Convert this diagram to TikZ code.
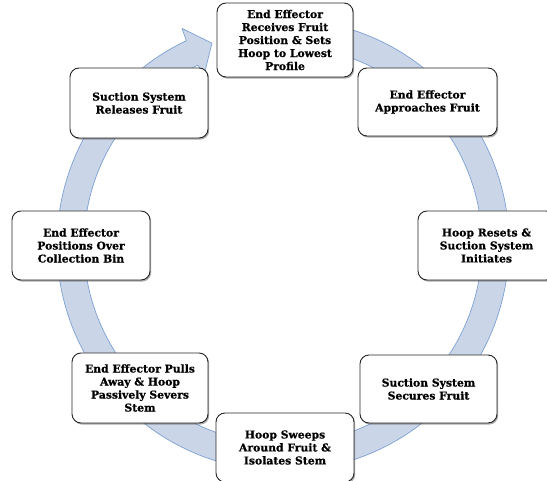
\documentclass[tikz,border=0pt]{standalone}
\usepackage{fontspec}
\setmainfont{DejaVu Serif}[BoldFeatures={FakeBold=0.7}]
\usetikzlibrary{shadows}
\definecolor{ringfill}{RGB}{203,213,232}
\definecolor{ringline}{RGB}{124,160,212}
\tikzset{
  stepbox/.style={draw=black!85, line width=0.9pt, rounded corners=9pt, fill=white,
    align=center, inner sep=2pt,
    font=\fontsize{10.8}{13}\selectfont\bfseries,
    drop shadow={shadow xshift=1.2pt, shadow yshift=-1.6pt, fill=black!60, opacity=0.55}},
  ring/.style={fill=ringfill, draw=ringline, line width=0.7pt, line join=round}
}
\begin{document}
\begin{tikzpicture}[x=1pt,y=1pt]
\clip (0,0) rectangle (547,480);
\begin{scope}[shift={(283,235)}]
\filldraw[ring] (85:226pt) arc[start angle=85, end angle=-244.7, radius=226pt]
  -- (-245:239pt) -- (-250.6:214pt) -- (-245:187pt) -- (-244.7:199pt)
  arc[start angle=-244.7, end angle=85, radius=199pt] -- cycle;
\end{scope}
\node[stepbox, minimum width=136pt, minimum height=74pt] (s1) at (285,440)
  {End Effector\\Receives Fruit\\Position \& Sets\\Hoop to Lowest\\Profile};
\node[stepbox, minimum width=139pt, minimum height=68pt] (s2) at (427.5,378)
  {End Effector\\Approaches Fruit};
\node[stepbox, minimum width=137pt, minimum height=69pt] (s3) at (486.5,234.5)
  {Hoop Resets \&\\Suction System\\Initiates};
\node[stepbox, minimum width=137pt, minimum height=68pt] (s4) at (428.5,91)
  {Suction System\\Secures Fruit};
\node[stepbox, minimum width=138pt, minimum height=69pt] (s5) at (285,32.5)
  {Hoop Sweeps\\Around Fruit \&\\Isolates Stem};
\node[stepbox, minimum width=136pt, minimum height=70pt] (s6) at (140,92)
  {End Effector Pulls\\Away \& Hoop\\Passively Severs\\Stem};
\node[stepbox, minimum width=138pt, minimum height=69pt] (s7) at (81,234.5)
  {End Effector\\Positions Over\\Collection Bin};
\node[stepbox, minimum width=138pt, minimum height=70pt] (s8) at (139,377)
  {Suction System\\Releases Fruit};
\end{tikzpicture}
\end{document}
